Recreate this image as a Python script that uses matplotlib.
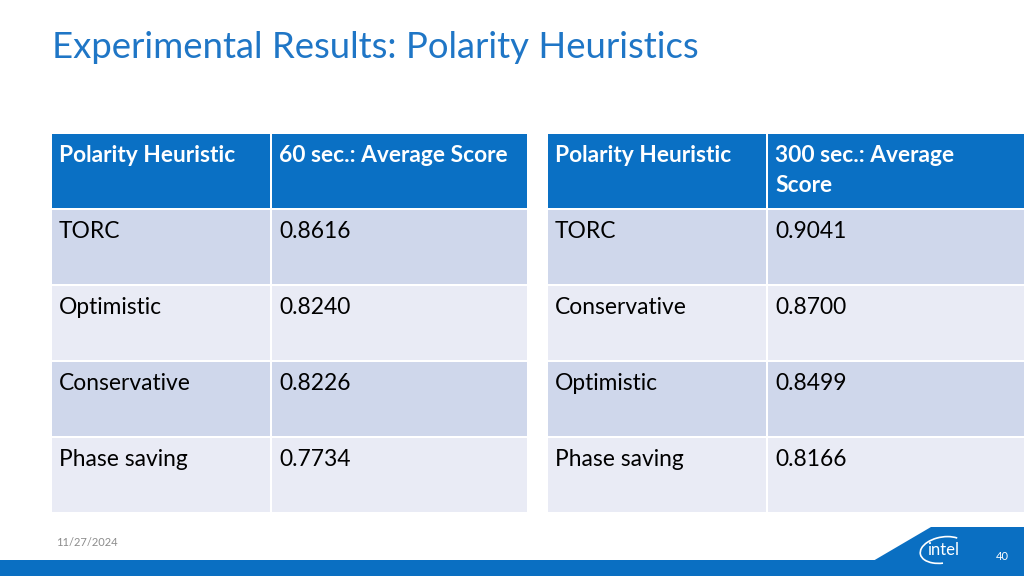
import matplotlib
matplotlib.use("Agg")
import matplotlib.pyplot as plt
from matplotlib.patches import Rectangle, Polygon, Arc

title = "Experimental Results: Polarity Heuristics"
headers_60 = ["Polarity Heuristic", "60 sec.: Average Score"]
heuristics_60 = ["TORC", "Optimistic", "Conservative", "Phase saving"]
scores_60 = ["0.8616", "0.8240", "0.8226", "0.7734"]
headers_300 = ["Polarity Heuristic", "300 sec.: Average\nScore"]
heuristics_300 = ["TORC", "Conservative", "Optimistic", "Phase saving"]
scores_300 = ["0.9041", "0.8700", "0.8499", "0.8166"]
date_text = "11/27/2024"
page_text = "40"

HEAD = "#0a70c4"
ROW_DARK = "#cfd7eb"
ROW_LIGHT = "#e9ebf5"
FONT = ["Lato", "DejaVu Sans"]

fig = plt.figure(figsize=(10.24, 5.76), dpi=100)
ax = fig.add_axes([0, 0, 1, 1])
ax.set_xlim(0, 1024)
ax.set_ylim(576, 0)
ax.axis("off")

ax.text(52, 47, title, fontsize=26.3, color="#1f76c6", va="center", ha="left", family=FONT)

def draw_table(x0, xs, x1, headers, names, vals):
    top, hbot = 134, 208
    row_tops = [210, 286, 362, 438]
    row_h = 74
    cols = [(x0, xs - 1), (xs + 1, x1)]
    for (a, b), h in zip(cols, headers):
        ax.add_patch(Rectangle((a, top), b - a, hbot - top, color=HEAD, lw=0))
        ax.text(a + 7, 145, h, fontsize=16.4, color="white", weight="bold",
                va="top", ha="left", family=FONT, linespacing=1.55)
    for i, (n, v) in enumerate(zip(names, vals)):
        c = ROW_DARK if i % 2 == 0 else ROW_LIGHT
        t = row_tops[i]
        for (a, b), s in zip(cols, [n, v]):
            ax.add_patch(Rectangle((a, t), b - a, row_h, color=c, lw=0))
            ax.text(a + 7, t + 11, s, fontsize=16.4, color="#000000",
                    va="top", ha="left", family=FONT)

draw_table(52, 271, 527, headers_60, heuristics_60, scores_60)
draw_table(548, 767, 1024, headers_300, heuristics_300, scores_300)

# bottom bar
ax.add_patch(Rectangle((0, 560), 1024, 16, color="#0a6fc2", lw=0))
ax.add_patch(Polygon([(873, 561), (931, 527), (1024, 527), (1024, 561)],
                     closed=True, color="#0a6fc2", lw=0))
ax.text(56, 542, date_text, fontsize=8, color="#8c8c8c", va="center", ha="left", family=FONT)
ax.text(1002, 556, page_text, fontsize=8, color="white", va="center", ha="center", family=FONT)
ax.text(943, 550, "intel", fontsize=12, color="white", va="center", ha="center", family=FONT)
ax.add_patch(Arc((943, 550), 46, 26, angle=-10, theta1=100, theta2=330, color="white", lw=1.2))

fig.savefig("out.png", dpi=100)
